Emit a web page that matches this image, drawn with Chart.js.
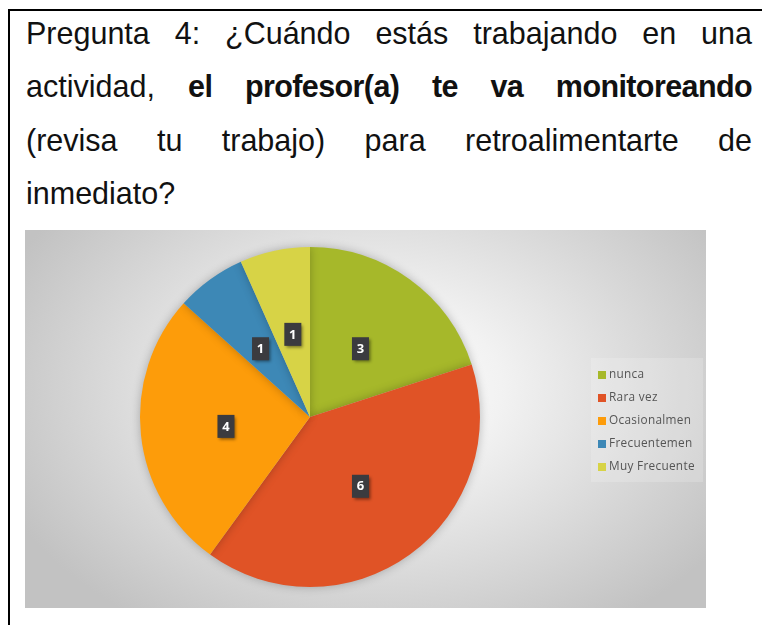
<!DOCTYPE html>
<html>
<head>
<meta charset="utf-8">
<script src="https://cdn.jsdelivr.net/npm/chart.js@4.4.1/dist/chart.umd.min.js"></script>
<style>
  html, body { margin: 0; padding: 0; background: #fff; width: 762px; height: 625px; overflow: hidden; }
  .box { position: absolute; left: 8px; top: 9px; width: 820px; height: 700px; border: 2px solid #000; box-sizing: border-box; }
  .txt { position: absolute; left: 26px; width: 726px; top: 7px; font-family: "Liberation Sans", Arial, sans-serif; font-size: 30.5px; color: #111; }
  .ln { height: 53.3px; line-height: 53px; text-align: justify; text-align-last: justify; white-space: nowrap; }
  .ln.last { text-align-last: left; }
  .ln b { letter-spacing: -0.6px; }
  .chartwrap { position: absolute; left: 25px; top: 230px; width: 681px; height: 378px;
    background: radial-gradient(ellipse 60% 75% at 52% 42%, #ffffff 0%, #f2f2f2 30%, #dadada 65%, #c2c2c2 100%); }
  #legend { position: absolute; left: 566px; top: 128px; width: 112px; height: 124px; background: rgba(255,255,255,0.18);
    font-family: "Open Sans", "Noto Sans", sans-serif; font-size: 11.8px; letter-spacing: 0.3px; color: #555; }
  .li { position: absolute; left: 7px; height: 14px; line-height: 14px; white-space: nowrap; }
  .sw { display: inline-block; width: 8px; height: 8px; margin-right: 3px; vertical-align: -0.5px; }
</style>
</head>
<body>
<div class="box"></div>
<div class="txt">
  <div class="ln">Pregunta 4: ¿Cuándo estás trabajando en una</div>
  <div class="ln">actividad, <b>el profesor(a) te va monitoreando</b></div>
  <div class="ln">(revisa tu trabajo) para retroalimentarte de</div>
  <div class="ln last">inmediato?</div>
</div>
<div class="chartwrap">
  <canvas id="pieChart" width="681" height="378"></canvas>
  <div id="legend"></div>
</div>
<script>
const labels = ['nunca', 'Rara vez', 'Ocasionalmen', 'Frecuentemen', 'Muy Frecuente'];
const values = [3, 6, 4, 1, 1];
const colors = ['#a6b82a', '#e05326', '#fd9c0a', '#3d88b6', '#d7d346'];

// dark value boxes in the middle of each slice
const valueBoxes = {
    id: 'valueBoxes',
    afterDatasetsDraw(chart) {
        const ctx = chart.ctx;
        const meta = chart.getDatasetMeta(0);
        meta.data.forEach((arc, i) => {
            const p = arc.getProps(['x', 'y', 'startAngle', 'endAngle', 'outerRadius'], true);
            const mid = (p.startAngle + p.endAngle) / 2;
            const r = p.outerRadius * 0.5;
            const x = p.x + Math.cos(mid) * r;
            const y = p.y + Math.sin(mid) * r;
            ctx.save();
            ctx.shadowColor = 'rgba(0,0,0,0.45)';
            ctx.shadowBlur = 3;
            ctx.shadowOffsetX = 2;
            ctx.shadowOffsetY = 2;
            ctx.fillStyle = '#3b3b3f';
            ctx.fillRect(x - 8, y - 11, 17, 23);
            ctx.restore();
            ctx.fillStyle = '#fff';
            ctx.font = 'bold 13px "Open Sans", sans-serif';
            ctx.textAlign = 'center';
            ctx.textBaseline = 'middle';
            ctx.fillText(String(values[i]), x + 0.5, y + 1);
        });
    }
};

// soft shadow behind the pie
const pieShadow = {
    id: 'pieShadow',
    beforeDatasetsDraw(chart) {
        const ctx = chart.ctx;
        ctx.save();
        ctx.shadowColor = 'rgba(0,0,0,0.25)';
        ctx.shadowBlur = 10;
    },
    afterDatasetsDraw(chart) { chart.ctx.restore(); }
};

new Chart(document.getElementById('pieChart'), {
    type: 'pie',
    data: {
        labels: labels,
        datasets: [{ data: values, backgroundColor: colors, borderWidth: 0 }]
    },
    options: {
        responsive: false,
        animation: false,
        layout: { padding: { left: 115, right: 226, top: 17, bottom: 21 } },
        plugins: { legend: { display: false }, tooltip: { enabled: false } }
    },
    plugins: [pieShadow, valueBoxes]
});

let htmlLeg = '';
labels.forEach((l, i) => {
    htmlLeg += `<div class="li" style="top:${8 + i * 23}px"><span class="sw" style="background:${colors[i]}"></span>${l}</div>`;
});
document.getElementById('legend').innerHTML = htmlLeg;
</script>
</body>
</html>
